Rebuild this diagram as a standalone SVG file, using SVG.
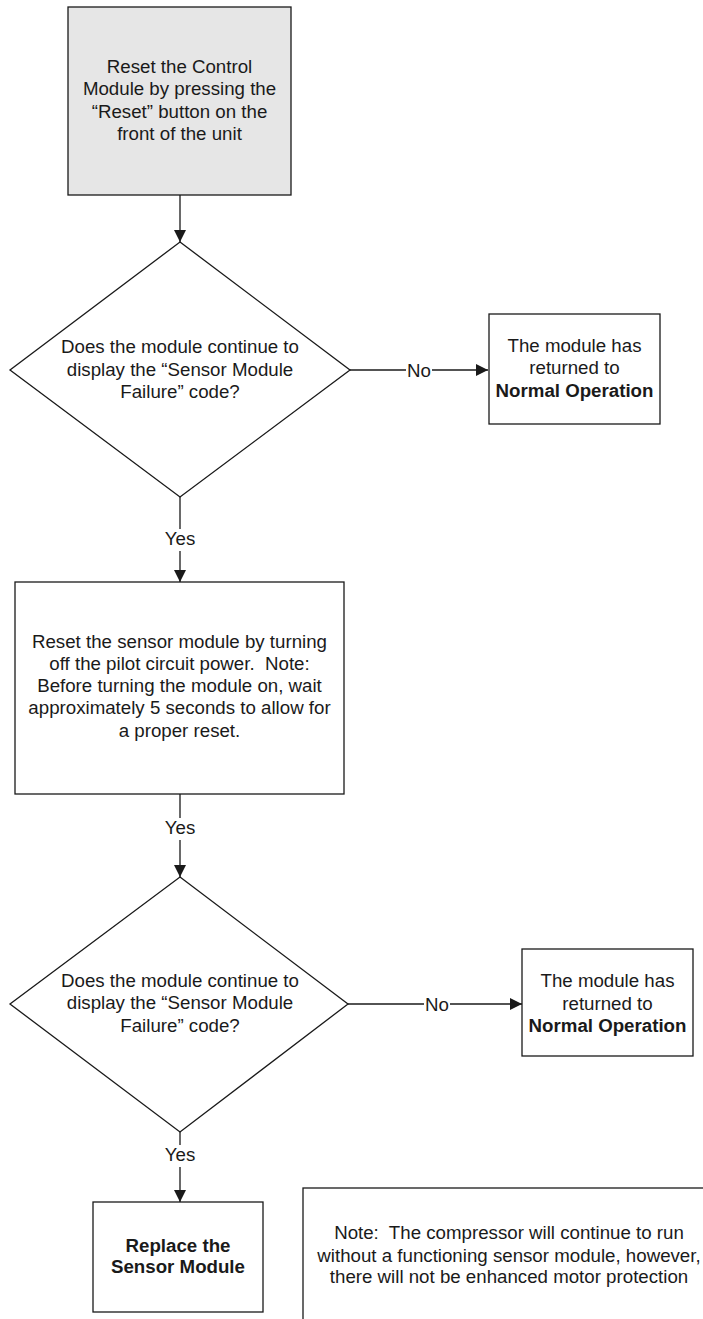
<svg xmlns="http://www.w3.org/2000/svg" width="703" height="1319" viewBox="0 0 703 1319">
<style>
text{font-family:"Liberation Sans",Arial,sans-serif;font-size:18.7px;fill:#1a1a1a;text-anchor:middle;white-space:pre}
.b{font-weight:bold}
.box{fill:#fff;stroke:#1a1a1a;stroke-width:1.3}
.gray{fill:#e6e6e6}
.ln{fill:none;stroke:#1a1a1a;stroke-width:1.3}
.lbl{fill:#fff;stroke:none}
</style>
<defs>
<marker id="ah" markerWidth="12" markerHeight="12" refX="12" refY="6" orient="auto" markerUnits="userSpaceOnUse">
<path d="M0,0 L12,6 L0,12 Z" fill="#1a1a1a"/>
</marker>
</defs>
<g id="connectors">
<line class="ln" x1="180" y1="195" x2="180" y2="242" marker-end="url(#ah)"/>
<line class="ln" x1="350" y1="370" x2="488" y2="370" marker-end="url(#ah)"/>
<line class="ln" x1="180" y1="497" x2="180" y2="582" marker-end="url(#ah)"/>
<line class="ln" x1="180" y1="794" x2="180" y2="877" marker-end="url(#ah)"/>
<line class="ln" x1="348" y1="1004" x2="522" y2="1004" marker-end="url(#ah)"/>
<line class="ln" x1="180" y1="1132" x2="180" y2="1202" marker-end="url(#ah)"/>
<rect class="lbl" x="406" y="360" width="26" height="20"/>
<text x="419" y="377">No</text>
<rect class="lbl" x="160" y="529" width="40" height="22"/>
<text x="180" y="545">Yes</text>
<rect class="lbl" x="160" y="818" width="40" height="22"/>
<text x="180" y="834">Yes</text>
<rect class="lbl" x="424" y="994" width="26" height="20"/>
<text x="437" y="1011">No</text>
<rect class="lbl" x="160" y="1145" width="40" height="22"/>
<text x="180" y="1161">Yes</text>
</g>
<g id="n1">
<rect class="box gray" x="68" y="7" width="223" height="188"/>
<text x="179.5" y="73">Reset the Control</text>
<text x="179.5" y="95">Module by pressing the</text>
<text x="179.5" y="118">“Reset” button on the</text>
<text x="179.5" y="140">front of the unit</text>
</g>
<g id="d1">
<polygon class="box" points="180,242 350,370 180,497 10,370"/>
<text x="180" y="353">Does the module continue to</text>
<text x="180" y="376">display the “Sensor Module</text>
<text x="180" y="398">Failure” code?</text>
</g>
<g id="n2">
<rect class="box" x="489" y="314" width="171" height="110"/>
<text x="574.5" y="352">The module has</text>
<text x="574.5" y="374">returned to</text>
<text class="b" x="574.5" y="397">Normal Operation</text>
</g>
<g id="n3">
<rect class="box" x="15" y="582" width="329" height="212"/>
<text x="179.5" y="648">Reset the sensor module by turning</text>
<text x="179.5" y="670">off the pilot circuit power.  Note:</text>
<text x="179.5" y="692">Before turning the module on, wait</text>
<text x="179.5" y="714">approximately 5 seconds to allow for</text>
<text x="179.5" y="737">a proper reset.</text>
</g>
<g id="d2">
<polygon class="box" points="180,877 348,1004 180,1132 10,1004"/>
<text x="180" y="987">Does the module continue to</text>
<text x="180" y="1009">display the “Sensor Module</text>
<text x="180" y="1032">Failure” code?</text>
</g>
<g id="n4">
<rect class="box" x="522" y="949" width="171" height="107"/>
<text x="607.5" y="987">The module has</text>
<text x="607.5" y="1010">returned to</text>
<text class="b" x="607.5" y="1032">Normal Operation</text>
</g>
<g id="n5">
<rect class="box" x="93" y="1202" width="170" height="110"/>
<text class="b" x="178" y="1252">Replace the</text>
<text class="b" x="178" y="1273">Sensor Module</text>
</g>
<g id="n6">
<rect class="box" x="303" y="1188" width="420" height="160"/>
<text x="509" y="1239">Note:  The compressor will continue to run</text>
<text x="509" y="1262">without a functioning sensor module, however,</text>
<text x="509" y="1283">there will not be enhanced motor protection</text>
</g>
</svg>
